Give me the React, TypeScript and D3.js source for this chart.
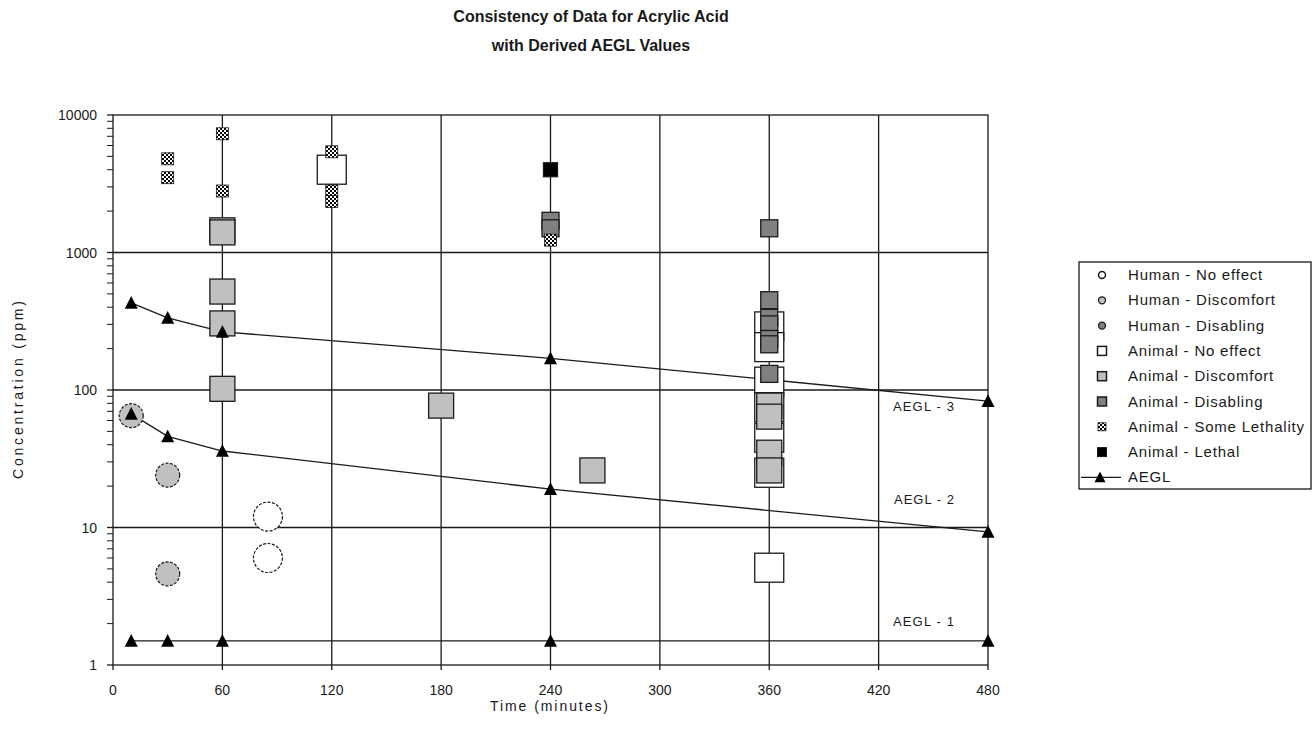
import React from "react";
import * as d3 from "d3";

// ---- data ----
const xTicks = [0, 60, 120, 180, 240, 300, 360, 420, 480];
const yTicks = [1, 10, 100, 1000, 10000];

const humanNoEffectT = [85, 85];
const humanNoEffectC = [12, 6];
const humanDiscomfortT = [10, 30, 30];
const humanDiscomfortC = [65, 24, 4.6];
const humanDisablingT: number[] = [];
const humanDisablingC: number[] = [];
const animalNoEffectT = [120, 360, 360, 360, 360, 360, 360, 360];
const animalNoEffectC = [4000, 290, 205, 115, 75, 45, 25, 5.1];
const animalDiscomfortT = [60, 60, 60, 60, 60, 180, 263, 360, 360, 360, 360];
const animalDiscomfortC = [1450, 1400, 520, 305, 102, 77, 26, 77, 64, 35, 26];
const animalDisablingT = [240, 240, 360, 360, 360, 360, 360, 360, 360];
const animalDisablingC = [1700, 1500, 1500, 450, 335, 300, 235, 215, 131];
const someLethalT = [30, 30, 60, 60, 120, 120, 120, 240];
const someLethalC = [4800, 3500, 7300, 2800, 5400, 2800, 2350, 1230];
const lethalT = [240];
const lethalC = [4000];

const aeglT = [10, 30, 60, 240, 480];
const aegl1 = [1.5, 1.5, 1.5, 1.5, 1.5];
const aegl2 = [67, 46, 36, 19, 9.3];
const aegl3 = [430, 335, 265, 170, 83];

const legendItems = [
  "Human - No effect",
  "Human - Discomfort",
  "Human - Disabling",
  "Animal - No effect",
  "Animal - Discomfort",
  "Animal - Disabling",
  "Animal - Some Lethality",
  "Animal - Lethal",
  "AEGL",
];

const FONT = "Arial, 'Liberation Sans', Helvetica, sans-serif";
const LIGHT = "#c0c0c0";
const DARK = "#808080";
const INK = "#1a1a1a";

function zip(t: number[], c: number[]) {
  return t.map((v, i) => ({ t: v, c: c[i] }));
}

function tri(cx: number, cy: number, s: number) {
  const h = s * 0.9;
  return `M${cx},${cy - h / 2 - 1}L${cx + s / 2},${cy + h / 2}L${cx - s / 2},${cy + h / 2}Z`;
}

export default function App() {
  const W = 1314, H = 745;
  const x = d3.scaleLinear().domain([0, 480]).range([113, 988]);
  const y = d3.scaleLog().domain([1, 10000]).range([665, 115]);
  const [x0, x1] = x.range();
  const [yb, yt] = y.range();

  const minor: number[] = [];
  for (let d = 1; d < 10000; d *= 10) for (let k = 2; k <= 9; k++) minor.push(d * k);

  const line = d3
    .line<{ t: number; c: number }>()
    .x((d) => x(d.t))
    .y((d) => y(d.c));

  const sq = (t: number, c: number, s: number, fill: string, key: string, sw = 1.3) => (
    <rect key={key} x={x(t) - s / 2} y={y(c) - s / 2} width={s} height={s} fill={fill} stroke={INK} strokeWidth={sw} />
  );

  const legX = 1079, legY = 262, legW = 232, legH = 227;
  const rowY = (i: number) => 275 + i * 25.3;
  const mx = 1102;

  return (
    <svg width={W} height={H} style={{ position: "absolute", left: 0, top: 0, background: "#fff" }} fontFamily={FONT}>
      <defs>
        <pattern id="chk" width="4" height="4" patternUnits="userSpaceOnUse">
          <rect width="4" height="4" fill="#fff" />
          <rect width="2" height="2" fill="#000" />
          <rect x="2" y="2" width="2" height="2" fill="#000" />
        </pattern>
      </defs>
      <rect width={W} height={H} fill="#fff" />

      {/* title */}
      <text x={591} y={22} textAnchor="middle" fontSize={16} fontWeight="bold" fill={INK}>
        Consistency of Data for Acrylic Acid
      </text>
      <text x={591} y={51} textAnchor="middle" fontSize={16} fontWeight="bold" fill={INK}>
        with Derived AEGL Values
      </text>

      {/* plot frame & grid */}
      <rect x={x0} y={yt} width={x1 - x0} height={yb - yt} fill="#fff" stroke={INK} strokeWidth={1.3} />
      {xTicks.slice(1, -1).map((t) => (
        <line key={"gx" + t} x1={x(t)} x2={x(t)} y1={yt} y2={yb} stroke={INK} strokeWidth={1.3} />
      ))}
      {yTicks.slice(1, -1).map((v) => (
        <line key={"gy" + v} x1={x0} x2={x1} y1={y(v)} y2={y(v)} stroke={INK} strokeWidth={1.3} />
      ))}

      {/* ticks */}
      {yTicks.map((v) => (
        <line key={"ty" + v} x1={x0 - 6} x2={x0} y1={y(v)} y2={y(v)} stroke={INK} strokeWidth={1.3} />
      ))}
      {minor.map((v) => (
        <line key={"tm" + v} x1={x0 - 6} x2={x0} y1={y(v)} y2={y(v)} stroke={INK} strokeWidth={1} />
      ))}
      {xTicks.map((t) => (
        <line key={"tx" + t} x1={x(t)} x2={x(t)} y1={yb} y2={yb + 5} stroke={INK} strokeWidth={1.3} />
      ))}

      {/* tick labels */}
      {yTicks.map((v) => (
        <text key={"ly" + v} x={97} y={y(v) + 5} textAnchor="end" fontSize={14} fill={INK}>
          {String(v)}
        </text>
      ))}
      {xTicks.map((t) => (
        <text key={"lx" + t} x={x(t)} y={695} textAnchor="middle" fontSize={14} fill={INK}>
          {String(t)}
        </text>
      ))}

      {/* axis titles */}
      <text x={549} y={711} textAnchor="middle" fontSize={14} fill={INK} textLength={118} lengthAdjust="spacing">
        Time (minutes)
      </text>
      <text
        transform="translate(23,390) rotate(-90)"
        textAnchor="middle"
        fontSize={14}
        fill={INK}
        textLength={178}
        lengthAdjust="spacing"
      >
        Concentration (ppm)
      </text>

      {/* AEGL lines */}
      {[aegl1, aegl2, aegl3].map((arr, k) => (
        <path key={"al" + k} d={line(zip(aeglT, arr)) || ""} fill="none" stroke={INK} strokeWidth={1.3} />
      ))}

      {/* markers */}
      {zip(humanNoEffectT, humanNoEffectC).map((d, i) => (
        <circle key={"hn" + i} cx={x(d.t)} cy={y(d.c)} r={14.5} fill="#fff" stroke={INK} strokeWidth={1.2} strokeDasharray="3,1.5" />
      ))}
      {zip(humanDiscomfortT, humanDiscomfortC).map((d, i) => (
        <circle key={"hd" + i} cx={x(d.t)} cy={y(d.c)} r={12} fill={LIGHT} stroke={INK} strokeWidth={1.2} strokeDasharray="3,1.5" />
      ))}
      {zip(humanDisablingT, humanDisablingC).map((d, i) => (
        <circle key={"hb" + i} cx={x(d.t)} cy={y(d.c)} r={12} fill={DARK} stroke={INK} strokeWidth={1.2} />
      ))}
      {zip(animalNoEffectT, animalNoEffectC).map((d, i) => sq(d.t, d.c, 29, "#fff", "an" + i))}
      {zip(animalDiscomfortT, animalDiscomfortC).map((d, i) => sq(d.t, d.c, 25, LIGHT, "ad" + i))}
      {zip(animalDisablingT, animalDisablingC).map((d, i) => sq(d.t, d.c, 17, DARK, "ab" + i))}
      {zip(someLethalT, someLethalC).map((d, i) => sq(d.t, d.c, 12, "url(#chk)", "sl" + i, 0.8))}
      {zip(lethalT, lethalC).map((d, i) => sq(d.t, d.c, 14, "#000", "le" + i))}
      {[aegl1, aegl2, aegl3].map((arr, k) =>
        zip(aeglT, arr).map((d, i) => <path key={"at" + k + "-" + i} d={tri(x(d.t), y(d.c), 13)} fill="#000" />)
      )}

      {/* AEGL labels */}
      <text x={893} y={411} fontSize={13} fill={INK} textLength={61} lengthAdjust="spacing">AEGL - 3</text>
      <text x={894} y={504} fontSize={13} fill={INK} textLength={60} lengthAdjust="spacing">AEGL - 2</text>
      <text x={893} y={626} fontSize={13} fill={INK} textLength={61} lengthAdjust="spacing">AEGL - 1</text>

      {/* legend */}
      <rect x={legX} y={legY} width={legW} height={legH} fill="#fff" stroke={INK} strokeWidth={1.3} />
      {legendItems.map((name, i) => {
        const cy = rowY(i);
        let mark: React.ReactNode = null;
        if (i === 0) mark = <circle cx={mx} cy={cy} r={3.5} fill="#fff" stroke={INK} strokeWidth={1.5} />;
        else if (i === 1) mark = <circle cx={mx} cy={cy} r={3.5} fill={LIGHT} stroke={INK} strokeWidth={1.3} />;
        else if (i === 2) mark = <circle cx={mx} cy={cy} r={3.5} fill={DARK} stroke={INK} strokeWidth={1.3} />;
        else if (i === 3) mark = <rect x={mx - 4.5} y={cy - 4.5} width={9} height={9} fill="#fff" stroke={INK} strokeWidth={1.5} />;
        else if (i === 4) mark = <rect x={mx - 4.5} y={cy - 4.5} width={9} height={9} fill={LIGHT} stroke={INK} strokeWidth={1.5} />;
        else if (i === 5) mark = <rect x={mx - 4.5} y={cy - 4.5} width={9} height={9} fill={DARK} stroke={INK} strokeWidth={1.5} />;
        else if (i === 6) mark = <rect x={mx - 4} y={cy - 4} width={8} height={8} fill="url(#chk)" stroke={INK} strokeWidth={0.8} />;
        else if (i === 7) mark = <rect x={mx - 4.5} y={cy - 4.5} width={9} height={9} fill="#000" stroke={INK} strokeWidth={1} />;
        else
          mark = (
            <g>
              <line x1={1081} x2={1121} y1={cy} y2={cy} stroke={INK} strokeWidth={1.3} />
              <path d={tri(1100, cy, 11)} fill="#000" />
            </g>
          );
        return (
          <g key={"lg" + i}>
            {mark}
            <text x={1128} y={cy + 5} fontSize={15} letterSpacing={0.8} fill={INK}>
              {name}
            </text>
          </g>
        );
      })}
    </svg>
  );
}
